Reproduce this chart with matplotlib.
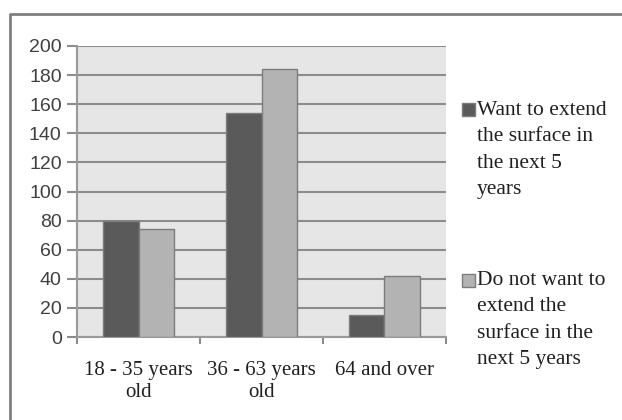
import matplotlib
matplotlib.use("Agg")
import matplotlib.pyplot as plt
from matplotlib.lines import Line2D
from matplotlib.patches import Rectangle

# data
categories = ["18 - 35 years\nold", "36 - 63 years\nold", "64 and over"]
want_extend = [80, 154, 15]
not_extend = [74, 184, 42]
series_names = ["Want to extend\nthe surface in\nthe next 5\nyears",
                "Do not want to\nextend the\nsurface in the\nnext 5 years"]
yticks = list(range(0, 201, 20))

dark = "#5a5a5a"
light = "#b3b3b3"
edge = "#7c7c7c"
W, H = 622, 420

fig = plt.figure(figsize=(6.22, 4.2), dpi=100)
ax = fig.add_axes([77 / W, 1 - 337 / H, 369 / W, 291 / H])
ax.set_facecolor("#e6e6e6")

x = range(len(categories))
w = 0.285
ax.bar([i - w / 2 for i in x], want_extend, w, color=dark, edgecolor=edge,
       linewidth=1, zorder=3)
ax.bar([i + w / 2 for i in x], not_extend, w, color=light, edgecolor=edge,
       linewidth=1, zorder=3)

ax.set_xlim(-0.5, 2.5)
ax.set_ylim(0, 200)
ax.set_yticks(yticks)
ax.grid(axis="y", color="#8c8c8c", linewidth=1.5, zorder=1)
for s in ["top", "right"]:
    ax.spines[s].set_visible(False)
for s in ["left", "bottom"]:
    ax.spines[s].set_color("#9a9a9a")
    ax.spines[s].set_linewidth(1.5)

ax.tick_params(axis="y", length=7, width=1.5, color="#8c8c8c", pad=4,
               labelsize=14, labelcolor="#404040")
for t in ax.get_yticklabels():
    t.set_fontfamily("Liberation Sans")

ax.set_xticks([-0.5, 0.5, 1.5, 2.5])
ax.set_xticklabels([])
ax.set_xticks(list(x), minor=True)
ax.set_xticklabels(categories, minor=True, fontfamily="Liberation Serif",
                   fontsize=15, color="#202020", linespacing=1.22)
ax.tick_params(axis="x", which="major", length=5, width=1.5, color="#8c8c8c")
ax.tick_params(axis="x", which="minor", length=0, pad=17)

# legend, drawn by hand so the square sits on the first line
legend_colors = [dark, light]
square_y = [109, 280]       # pixel centres from top
text_mid = [150, 320]
for c, sy, ty, name in zip(legend_colors, square_y, text_mid, series_names):
    fig.add_artist(Rectangle((462 / W, 1 - (sy + 6.5) / H), 13 / W, 13 / H,
                             transform=fig.transFigure, facecolor=c,
                             edgecolor=edge, linewidth=1))
    fig.text(477 / W, 1 - ty / H, name, ha="left", va="center",
             fontfamily="Liberation Serif", fontsize=15.5, color="#202020",
             linespacing=1.53)

# outer chart border
fig.add_artist(Line2D([10 / W, 10 / W, 1.0], [0.0, 1 - 14 / H, 1 - 14 / H],
                      transform=fig.transFigure, color="#7f7f7f", linewidth=2))

fig.savefig("out.png", dpi=100)
